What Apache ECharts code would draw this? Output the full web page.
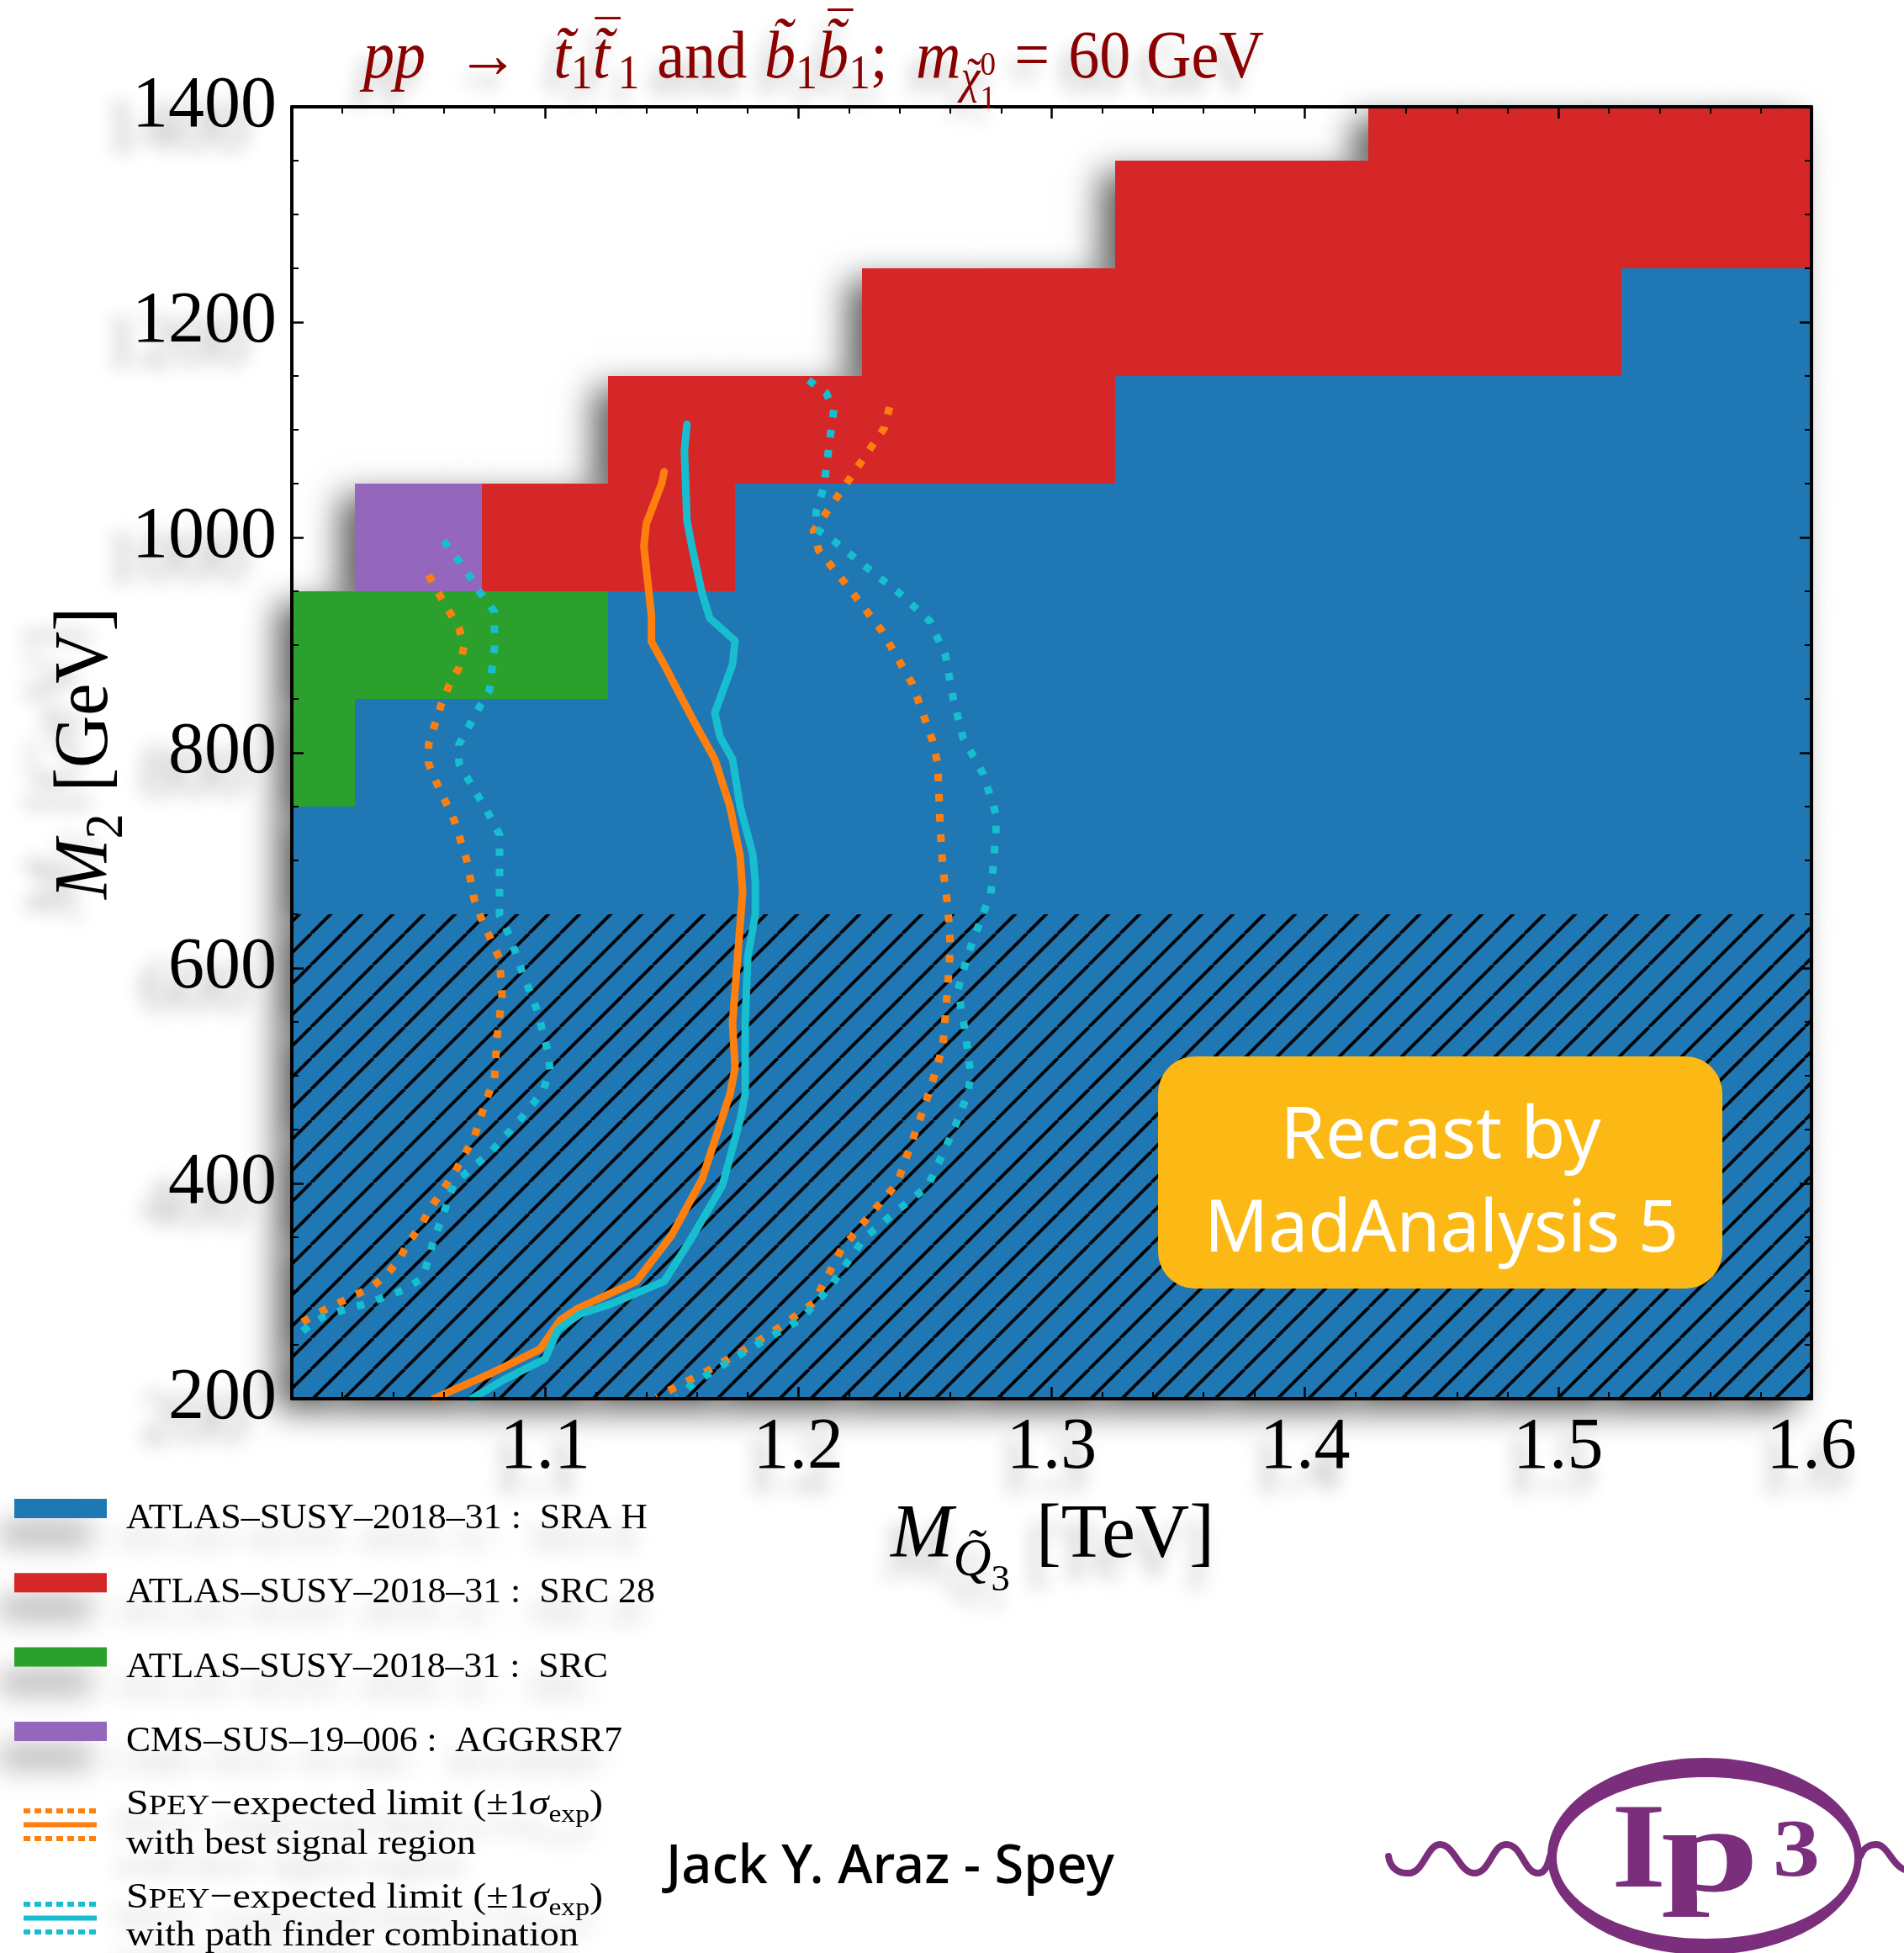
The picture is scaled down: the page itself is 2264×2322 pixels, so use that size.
<!DOCTYPE html>
<html>
<head>
<meta charset="utf-8">
<title>Spey expected limits – stop/sbottom pair production</title>
<script src="https://cdn.jsdelivr.net/npm/echarts@6/dist/echarts.min.js"></script>
<style>
  html, body { margin: 0; padding: 0; background: #ffffff; }
  #chart { width: 2264px; height: 2322px; }
</style>
</head>
<body>
<div id="chart"></div>
<script>
// ---------------------------------------------------------------------------
// Scan grid: M_Q3 (TeV) x M2 (GeV) cell centres
// ---------------------------------------------------------------------------
const mQ3Centers = [1.0, 1.05, 1.1, 1.15, 1.2, 1.25, 1.3, 1.35, 1.4, 1.45, 1.5, 1.55, 1.6];
const m2Centers = [1400, 1300, 1200, 1100, 1000, 900, 800, 700, 600, 500, 400, 300, 200];

// Best signal region per grid point (index into regionNames, -1 = none)
const bestRegion = [
  [-1, -1, -1, -1, -1, -1, -1, -1, -1,  1,  1,  1,  1], // 1400
  [-1, -1, -1, -1, -1, -1, -1,  1,  1,  1,  1,  1,  1], // 1300
  [-1, -1, -1, -1, -1,  1,  1,  1,  1,  1,  1,  0,  0], // 1200
  [-1, -1, -1,  1,  1,  1,  1,  0,  0,  0,  0,  0,  0], // 1100
  [-1,  3,  1,  1,  0,  0,  0,  0,  0,  0,  0,  0,  0], // 1000
  [ 2,  2,  2,  0,  0,  0,  0,  0,  0,  0,  0,  0,  0], //  900
  [ 2,  0,  0,  0,  0,  0,  0,  0,  0,  0,  0,  0,  0], //  800
  [ 0,  0,  0,  0,  0,  0,  0,  0,  0,  0,  0,  0,  0], //  700
  [ 0,  0,  0,  0,  0,  0,  0,  0,  0,  0,  0,  0,  0], //  600
  [ 0,  0,  0,  0,  0,  0,  0,  0,  0,  0,  0,  0,  0], //  500
  [ 0,  0,  0,  0,  0,  0,  0,  0,  0,  0,  0,  0,  0], //  400
  [ 0,  0,  0,  0,  0,  0,  0,  0,  0,  0,  0,  0,  0], //  300
  [ 0,  0,  0,  0,  0,  0,  0,  0,  0,  0,  0,  0,  0]  //  200
];
// grid points with M2 up to this value are hatched
const hatchedUpToM2 = 600;

const regionNames = [
  'ATLAS–SUSY–2018–31 :  SRA H',
  'ATLAS–SUSY–2018–31 :  SRC 28',
  'ATLAS–SUSY–2018–31 :  SRC',
  'CMS–SUS–19–006 :  AGGRSR7'
];

// Expected exclusion contours [M_Q3 (TeV), M2 (GeV)]
// best signal region: central and ±1 sigma
const bestSRCentral = [[1.147,1061],[1.146,1050],[1.140,1013],[1.139,992],[1.142,927],[1.142,903],[1.147,882],[1.153,855],[1.159,828],[1.167,794],[1.173,750],[1.177,704],[1.178,671],[1.176,610],[1.174,549],[1.175,507],[1.173,483],[1.167,440],[1.162,404],[1.150,352],[1.136,309],[1.113,284],[1.106,273],[1.098,246],[1.079,224],[1.056,200]];
const bestSRLow = [[1.054,965],[1.058,948],[1.066,916],[1.068,899],[1.066,879],[1.062,862],[1.059,845],[1.054,808],[1.054,790],[1.057,773],[1.064,738],[1.069,701],[1.072,664],[1.075,645],[1.082,609],[1.083,574],[1.081,535],[1.080,497],[1.077,479],[1.072,443],[1.064,409],[1.055,378],[1.051,361],[1.046,345],[1.042,328],[1.037,314],[1.031,303],[1.023,294],[1.015,285],[1.009,278],[1.002,268]];
const bestSRHigh = [[1.236,1121],[1.234,1102],[1.225,1071],[1.216,1040],[1.211,1023],[1.206,1006],[1.208,988],[1.218,959],[1.233,913],[1.245,864],[1.253,811],[1.255,790],[1.256,731],[1.257,694],[1.259,657],[1.260,620],[1.259,583],[1.257,527],[1.252,487],[1.247,453],[1.239,400],[1.228,370],[1.217,339],[1.206,289],[1.193,267],[1.179,246],[1.165,227],[1.150,209],[1.144,201]];
// path finder combination: central and ±1 sigma
const pathFinderCentral = [[1.156,1105],[1.155,1081],[1.156,1016],[1.158,991],[1.162,948],[1.165,925],[1.175,904],[1.174,882],[1.167,837],[1.169,815],[1.174,794],[1.177,750],[1.182,706],[1.183,680],[1.183,650],[1.180,610],[1.179,550],[1.179,483],[1.177,459],[1.170,398],[1.157,346],[1.147,309],[1.126,288],[1.114,279],[1.105,264],[1.100,237],[1.084,218],[1.071,200]];
const pathFinderLow = [[1.060,997],[1.070,965],[1.074,950],[1.080,931],[1.080,897],[1.079,878],[1.078,858],[1.074,842],[1.066,808],[1.066,790],[1.070,774],[1.078,742],[1.082,724],[1.082,685],[1.082,649],[1.086,630],[1.091,596],[1.097,560],[1.101,523],[1.102,505],[1.099,485],[1.089,456],[1.078,428],[1.064,400],[1.059,366],[1.056,348],[1.054,329],[1.051,311],[1.044,301],[1.036,294],[1.029,288],[1.021,283],[1.013,277],[1.007,268],[1.001,256]];
const pathFinderHigh = [[1.204,1146],[1.211,1134],[1.214,1119],[1.212,1083],[1.210,1046],[1.207,1024],[1.207,1008],[1.215,995],[1.227,972],[1.240,948],[1.252,922],[1.258,891],[1.261,852],[1.265,814],[1.273,780],[1.278,743],[1.278,725],[1.276,669],[1.273,651],[1.267,613],[1.263,580],[1.266,539],[1.268,502],[1.267,484],[1.261,448],[1.251,397],[1.238,373],[1.226,349],[1.212,302],[1.201,274],[1.187,255],[1.174,237],[1.159,215],[1.152,202]];

// Axis ranges
const xMin = 1.0, xMax = 1.6, xStep = 0.1;
const yMin = 200, yMax = 1400, yStep = 200;

// ---------------------------------------------------------------------------
// Styling
// ---------------------------------------------------------------------------
const regionColors = ['#1f77b4', '#d62728', '#2ca02c', '#9467bd'];
const ORANGE = '#ff7f0e', CYAN = '#17becf';
const TITLE_RED = '#8b0000';
const PURPLE = '#7a2e7b';
const SERIF = '"Liberation Serif", "DejaVu Serif", serif';
const SANS = '"Noto Sans", "Open Sans", sans-serif';

const textShadow = { color: 'rgba(0,0,0,0.30)', blur: 22, x: -12, y: 22 };

// Hatch tile for the low-M2 band ("//" style)
const hatchTile = (function () {
  const s = 37;
  const c = document.createElement('canvas');
  c.width = s; c.height = s;
  const g = c.getContext('2d');
  g.strokeStyle = '#000';
  g.lineWidth = 3.8;
  for (let k = -1; k <= 1; k++) {
    g.beginPath();
    g.moveTo(k * s, s);
    g.lineTo(k * s + s, 0);
    g.stroke();
  }
  return c;
})();
const hatchPattern = { image: hatchTile, repeat: 'repeat' };

// ---------------------------------------------------------------------------
// Rich inline text built from runs (italics, sub/superscripts, small caps)
// ---------------------------------------------------------------------------
const mctx = document.createElement('canvas').getContext('2d');
function fontOf(size, italic, weight, family) {
  return (italic ? 'italic ' : '') + (weight ? weight + ' ' : '') + size.toFixed(2) + 'px ' + family;
}
// distance from the canvas "middle" line down to the alphabetic baseline
function middleToBaseline(font, size) {
  mctx.font = font;
  mctx.textBaseline = 'alphabetic';
  const a = mctx.measureText('Hg').fontBoundingBoxAscent;
  mctx.textBaseline = 'middle';
  const b = mctx.measureText('Hg').fontBoundingBoxAscent;
  mctx.textBaseline = 'alphabetic';
  if (typeof a !== 'number' || typeof b !== 'number' || isNaN(a - b)) return 0.34 * size;
  return a - b;
}
function textRuns(runs, o) {
  const family = o.family || SERIF;
  const z = o.z || 20;
  const items = [];
  let cx = 0, lastX = 0;
  runs.forEach(function (r) {
    if (r.gap) { cx += r.gap * o.size; return; }
    const sz = o.size * (r.sc || 1);
    const font = fontOf(sz, r.it, r.w || o.weight, r.fam || family);
    mctx.font = font;
    const w = mctx.measureText(r.t).width;
    let x;
    if (r.stack) { x = lastX; cx = Math.max(cx, x + w); }
    else { x = cx; cx += w; }
    lastX = x;
    items.push({ x: x + (r.dx || 0) * o.size, y: (r.dy || 0) * o.size - middleToBaseline(font, sz), t: r.t, font: font });
  });
  const natural = cx;
  const sx = o.width ? o.width / natural : (o.scaleX || 1);
  const shift = o.align === 'center' ? -natural / 2 : (o.align === 'right' ? -natural : 0);
  const sh = o.shadow;
  const children = items.map(function (it) {
    const style = {
      text: it.t, font: it.font, fill: o.color || '#000',
      align: 'left', textAlign: 'left', verticalAlign: 'middle', textVerticalAlign: 'middle'
    };
    if (sh) {
      style.textShadowColor = sh.color; style.textShadowBlur = sh.blur;
      style.textShadowOffsetX = sh.x; style.textShadowOffsetY = sh.y;
    }
    return { type: 'text', x: it.x + shift, y: it.y, silent: true, z: z, style: style };
  });
  return {
    type: 'group', x: o.x, y: o.y, rotation: o.rotation || 0,
    scaleX: sx, scaleY: o.scaleY || 1, silent: true, z: z, children: children
  };
}

// ---------------------------------------------------------------------------
// Grid cells
// ---------------------------------------------------------------------------
const halfW = (mQ3Centers[1] - mQ3Centers[0]) / 2;
const halfH = (m2Centers[0] - m2Centers[1]) / 2;
const cellData = [];
m2Centers.forEach(function (m2, r) {
  mQ3Centers.forEach(function (mq, c) {
    const reg = bestRegion[r][c];
    if (reg >= 0) cellData.push([mq, m2, reg, m2 <= hatchedUpToM2 ? 1 : 0]);
  });
});

function cellRenderer(withShadow) {
  return function (params, api) {
    const x = api.value(0), y = api.value(1);
    const reg = api.value(2), hatched = api.value(3);
    const a = api.coord([Math.max(x - halfW, xMin), Math.min(y + halfH, yMax)]);
    const b = api.coord([Math.min(x + halfW, xMax), Math.max(y - halfH, yMin)]);
    const shape = { x: Math.round(a[0]), y: Math.round(a[1]) };
    shape.width = Math.round(b[0]) - shape.x;
    shape.height = Math.round(b[1]) - shape.y;
    const style = { fill: regionColors[reg] };
    if (withShadow) {
      style.shadowBlur = 38;
      style.shadowColor = 'rgba(0,0,0,0.62)';
      style.shadowOffsetX = -18;
      style.shadowOffsetY = 14;
    }
    const children = [{ type: 'rect', shape: shape, style: style }];
    if (hatched && !withShadow) {
      children.push({ type: 'rect', shape: shape, style: { fill: hatchPattern } });
    }
    return { type: 'group', children: children };
  };
}

function cellSeries(withShadow) {
  return {
    type: 'custom', name: withShadow ? 'cells-shadow' : 'cells',
    xAxisIndex: 0, yAxisIndex: 0,
    dimensions: ['mq3', 'm2', 'region', 'hatched'],
    encode: { x: 0, y: 1 },
    data: cellData, clip: false, silent: true,
    z: withShadow ? 1 : 2,
    renderItem: cellRenderer(withShadow)
  };
}

function limitSeries(name, data, color, dotted) {
  return {
    type: 'line', name: name, data: data,
    xAxisIndex: 0, yAxisIndex: 0,
    symbol: 'none', showSymbol: false, smooth: false, silent: true,
    clip: true, z: 5,
    lineStyle: {
      color: color, width: 9,
      type: dotted ? [9, 15] : 'solid',
      cap: dotted ? 'butt' : 'round', join: 'round'
    }
  };
}

// ---------------------------------------------------------------------------
// Axes (frame with inward ticks on all four sides)
// ---------------------------------------------------------------------------
function frameAxis(extra) {
  return Object.assign({
    type: 'value', z: 10,
    axisLine: { show: true, onZero: false, lineStyle: { color: '#000', width: 4 } },
    axisTick: { show: true, inside: true, length: 14, lineStyle: { color: '#000', width: 2.5 } },
    splitLine: { show: false },
    minorSplitLine: { show: false }
  }, extra);
}
const labelFont = { fontFamily: SERIF, fontSize: 86, color: '#000' };

const xAxes = [
  frameAxis({
    min: xMin, max: xMax, interval: xStep, position: 'bottom',
    minorTick: { show: true, splitNumber: 5, length: 8, lineStyle: { color: '#000', width: 2 } },
    axisLabel: Object.assign({
      show: true, showMinLabel: false, margin: 16,
      formatter: function (v) { return v.toFixed(1); },
      textShadowColor: textShadow.color, textShadowBlur: textShadow.blur,
      textShadowOffsetX: -12, textShadowOffsetY: 26
    }, labelFont)
  }),
  frameAxis({
    min: xMin, max: xMax, interval: xStep, position: 'top',
    minorTick: { show: true, splitNumber: 5, length: 8, lineStyle: { color: '#000', width: 2 } },
    axisLabel: { show: false }
  })
];
const yAxes = [
  frameAxis({
    min: yMin, max: yMax, interval: yStep, position: 'left',
    minorTick: { show: true, splitNumber: 4, length: 8, lineStyle: { color: '#000', width: 2 } },
    axisLabel: Object.assign({
      show: true, margin: 18,
      formatter: function (v) { return String(Math.round(v)); },
      textShadowColor: textShadow.color, textShadowBlur: textShadow.blur,
      textShadowOffsetX: -34, textShadowOffsetY: 28
    }, labelFont)
  }),
  frameAxis({
    min: yMin, max: yMax, interval: yStep, position: 'right',
    minorTick: { show: true, splitNumber: 4, length: 8, lineStyle: { color: '#000', width: 2 } },
    axisLabel: { show: false }
  })
];

// ---------------------------------------------------------------------------
// Decorations: title, axis names, legend, stamp, author and logo
// ---------------------------------------------------------------------------
const graphics = [];

// Title: pp -> stop stop-bar and sbottom sbottom-bar; m_chi = 60 GeV
graphics.push(textRuns([
  { t: 'pp', it: 1 }, { gap: 0.5 }, { t: '→' }, { gap: 0.55 },
  { t: 't\u0303', it: 1 }, { t: '1', sc: 0.7, dy: 0.16 },
  { t: 't\u0303', it: 1 }, { t: '\u00af', sc: 0.8, dy: -0.3, dx: 0.04, stack: 1 }, { t: '1', sc: 0.7, dy: 0.16 },
  { gap: 0.28 }, { t: 'and' }, { gap: 0.28 },
  { t: 'b\u0303', it: 1 }, { t: '1', sc: 0.7, dy: 0.16 },
  { t: 'b\u0303', it: 1 }, { t: '\u00af', sc: 0.8, dy: -0.42, dx: 0.17, stack: 1 }, { t: '1', sc: 0.7, dy: 0.16 },
  { t: ';' }, { gap: 0.45 },
  { t: 'm', it: 1 },
  { t: 'χ', it: 1, sc: 0.7, dy: 0.22 }, { t: '\u02dc', sc: 0.7, dy: 0.2, dx: 0.1, stack: 1 },
  { t: '0', sc: 0.5, dy: -0.04 }, { t: '1', sc: 0.5, dy: 0.46, stack: 1 },
  { gap: 0.3 }, { t: '=' }, { gap: 0.3 }, { t: '60 GeV' }
], { x: 432, y: 92, size: 80, width: 1071, color: TITLE_RED,
     shadow: { color: 'rgba(0,0,0,0.28)', blur: 20, x: -10, y: 18 } }));

// x-axis name
graphics.push(textRuns([
  { t: 'M', it: 1 }, { t: 'Q\u0303', it: 1, sc: 0.7, dy: 0.24 }, { t: '3', sc: 0.5, dy: 0.44 },
  { gap: 0.35 }, { t: '[TeV]' }
], { x: 1059, y: 1851, size: 90, width: 385, shadow: { color: 'rgba(0,0,0,0.28)', blur: 22, x: -10, y: 24 } }));

// y-axis name (reads bottom to top)
graphics.push(textRuns([
  { t: 'M', it: 1 }, { t: '2', sc: 0.7, dy: 0.2 }, { gap: 0.3 }, { t: '[GeV]' }
], { x: 127, y: 1069, size: 90, width: 347, rotation: Math.PI / 2,
     shadow: { color: 'rgba(0,0,0,0.28)', blur: 22, x: -34, y: 24 } }));

// Legend
const legendX = 150, legendSize = 43;
const legendShadow = { color: 'rgba(0,0,0,0.24)', blur: 26, x: -14, y: 26 };
const regionLabelWidths = [620, 629, 573, 590];
regionNames.forEach(function (name, i) {
  const top = 1782 + 88.3 * i;
  graphics.push({
    type: 'rect', silent: true, z: 20,
    shape: { x: 17, y: top, width: 110, height: 23 },
    style: { fill: regionColors[i], shadowBlur: 34, shadowColor: 'rgba(0,0,0,0.36)', shadowOffsetX: -18, shadowOffsetY: 30 }
  });
  graphics.push(textRuns([{ t: name }], { x: legendX, y: top + 35, size: legendSize, width: regionLabelWidths[i], shadow: legendShadow }));
});

function limitKey(color, yTop) {
  [0, 1, 2].forEach(function (k) {
    const y = yTop + 16.5 * k;
    const style = { stroke: color, lineWidth: 6, lineCap: 'butt' };
    if (k !== 1) style.lineDash = [8, 5];
    graphics.push({ type: 'line', silent: true, z: 20, shape: { x1: 28, y1: y, x2: 115, y2: y }, style: style });
  });
}
const speyHead = [
  { t: 'S' }, { t: 'PEY', sc: 0.8 }, { t: '−expected limit (±1' },
  { t: 'σ', it: 1 }, { t: 'exp', sc: 0.7, dy: 0.2 }, { t: ')' }
];
limitKey(ORANGE, 2153);
graphics.push(textRuns(speyHead, { x: legendX, y: 2157, size: legendSize, width: 567, shadow: legendShadow }));
graphics.push(textRuns([{ t: 'with best signal region' }], { x: legendX, y: 2204, size: legendSize, width: 416, shadow: legendShadow }));
limitKey(CYAN, 2264);
graphics.push(textRuns(speyHead, { x: legendX, y: 2268, size: legendSize, width: 567, shadow: legendShadow }));
graphics.push(textRuns([{ t: 'with path finder combination' }], { x: legendX, y: 2313, size: legendSize, width: 538, shadow: legendShadow }));

// Recast stamp
graphics.push({
  type: 'rect', silent: true, z: 30,
  shape: { x: 1377, y: 1256, width: 671, height: 276, r: 44 },
  style: { fill: '#fcb814' }
});
graphics.push(textRuns([{ t: 'Recast by' }], { x: 1713, y: 1377, size: 86, width: 381, align: 'center', family: SANS, color: '#ffffff', z: 31 }));
graphics.push(textRuns([{ t: 'MadAnalysis 5' }], { x: 1714, y: 1488, size: 86, width: 564, align: 'center', family: SANS, color: '#ffffff', z: 31 }));

// Author
graphics.push(textRuns([{ t: 'Jack Y. Araz - Spey' }], { x: 792, y: 2239, size: 64, width: 533, family: SANS, weight: 500, color: '#000' }));

// IP3 logo: ring, wiggly photon lines and lettering
graphics.push({ type: 'ellipse', silent: true, z: 20, shape: { cx: 2027, cy: 2207, rx: 187, ry: 117 }, style: { fill: PURPLE } });
graphics.push({ type: 'ellipse', silent: true, z: 21, shape: { cx: 2028, cy: 2209, rx: 177, ry: 96 }, style: { fill: '#ffffff' } });
const wiggle = [
  [1651, 2207, 1653, 2222, 1664, 2228, 1676, 2227],
  [1676, 2227, 1693, 2226, 1697, 2193, 1712, 2193],
  [1712, 2193, 1730, 2193, 1735, 2227, 1753, 2227],
  [1753, 2227, 1772, 2227, 1774, 2193, 1791, 2193],
  [1791, 2193, 1810, 2193, 1812, 2227, 1829, 2227],
  [1829, 2227, 1838, 2227, 1841, 2215, 1843, 2207],
  [2212, 2207, 2215, 2198, 2222, 2193, 2231, 2193],
  [2231, 2193, 2245, 2193, 2250, 2220, 2268, 2224]
];
wiggle.forEach(function (s) {
  graphics.push({
    type: 'bezierCurve', silent: true, z: 21,
    shape: { x1: s[0], y1: s[1], cpx1: s[2], cpy1: s[3], cpx2: s[4], cpy2: s[5], x2: s[6], y2: s[7] },
    style: { fill: null, stroke: PURPLE, lineWidth: 8, lineCap: 'round' }
  });
});
graphics.push(textRuns([{ t: 'I' }], { x: 1916, y: 2243, size: 144, width: 65, weight: 'bold', color: PURPLE, z: 25 }));
graphics.push(textRuns([{ t: 'p' }], { x: 1975, y: 2248, size: 144, width: 117, weight: 'bold', color: PURPLE, z: 25 }));
graphics.push(textRuns([{ t: '3' }], { x: 2108, y: 2230, size: 98, width: 56, weight: 'bold', color: PURPLE, z: 25 }));

// ---------------------------------------------------------------------------
// Chart
// ---------------------------------------------------------------------------
const chart = echarts.init(document.getElementById('chart'), null, { renderer: 'canvas', width: 2264, height: 2322 });
chart.setOption({
  animation: false,
  backgroundColor: '#ffffff',
  grid: { left: 347, top: 127, width: 1807, height: 1536, containLabel: false, outerBoundsMode: 'none' },
  xAxis: xAxes,
  yAxis: yAxes,
  series: [
    cellSeries(true),
    cellSeries(false),
    limitSeries('best SR −1σ', bestSRLow, ORANGE, true),
    limitSeries('best SR +1σ', bestSRHigh, ORANGE, true),
    limitSeries('path finder −1σ', pathFinderLow, CYAN, true),
    limitSeries('path finder +1σ', pathFinderHigh, CYAN, true),
    limitSeries('best SR', bestSRCentral, ORANGE, false),
    limitSeries('path finder', pathFinderCentral, CYAN, false)
  ],
  graphic: { elements: graphics }
});
</script>
</body>
</html>
